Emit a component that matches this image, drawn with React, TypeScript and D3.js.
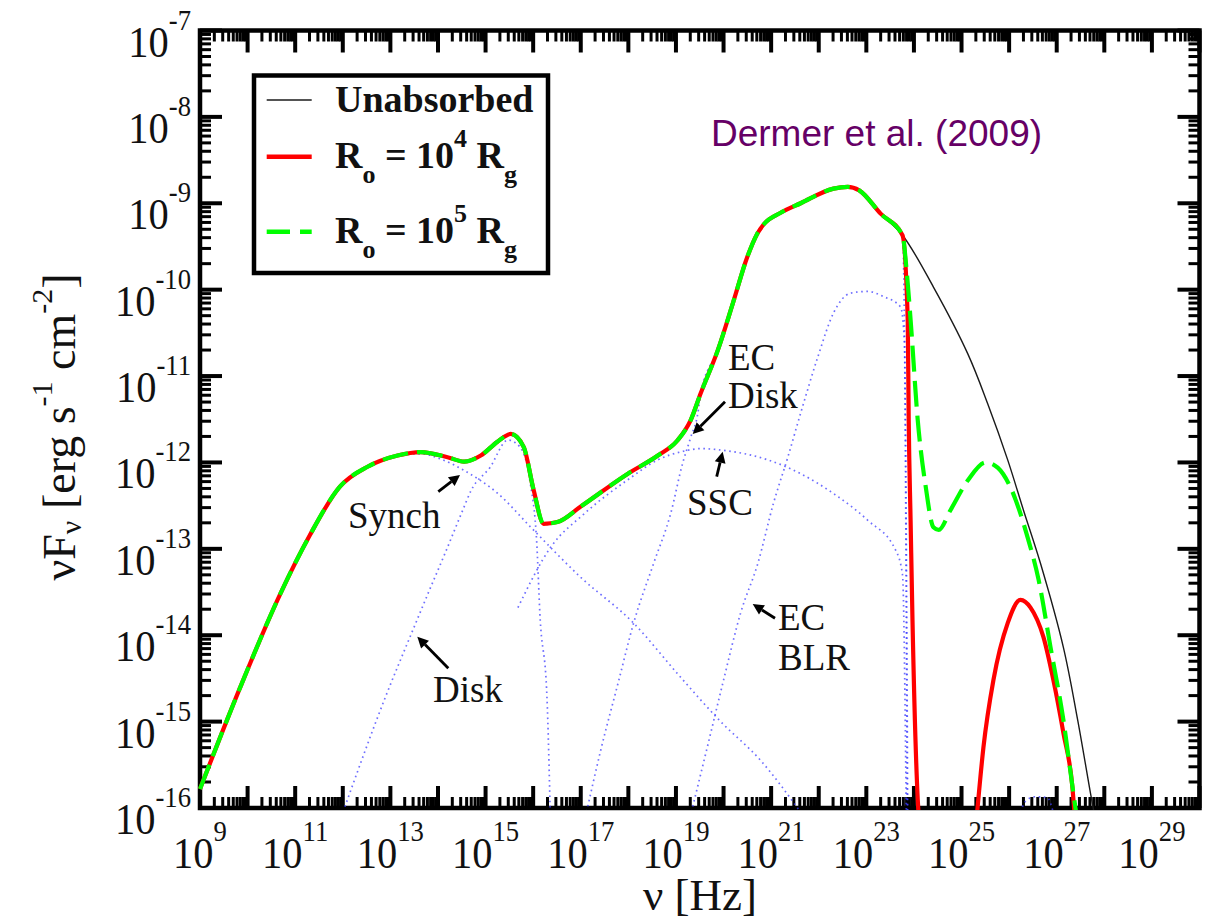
import React from "react";
import * as d3 from "d3";

type Pt = [number, number]; // [log10(nu / Hz), log10(nuFnu / erg s^-1 cm^-2)]

// ---------- axis definitions ----------
const xLabelExponents = [9, 11, 13, 15, 17, 19, 21, 23, 25, 27, 29];
const yLabelExponents = [-16, -15, -14, -13, -12, -11, -10, -9, -8, -7];
const xDecades = d3.range(9, 31);
const yDecades = d3.range(-16, -6);
const minorMultipliers = [2, 3, 4, 5, 6, 7, 8, 9];

// ---------- total SED (identical for all three cases below ~6e23 Hz) ----------
const commonSED: Pt[] = [
  [9.0, -15.78], [9.84, -14.61], [10.68, -13.53], [11.31, -12.84], [11.94, -12.28],
  [12.52, -12.05], [13.15, -11.92], [13.64, -11.88], [14.2, -11.94],
  [14.55, -11.99], [14.9, -11.92], [15.25, -11.76], [15.53, -11.67], [15.8, -11.82],
  [16.01, -12.32], [16.22, -12.71], [16.51, -12.69], [17.0, -12.51], [17.99, -12.13],
  [18.62, -11.92], [19.04, -11.74], [19.31, -11.51], [19.52, -11.2], [19.88, -10.7],
  [20.2, -10.15], [20.5, -9.62], [20.7, -9.36], [20.85, -9.24], [21.2, -9.11],
  [21.62, -9.0], [22.31, -8.83], [22.61, -8.81], [22.85, -8.85], [23.3, -9.12],
  [23.76, -9.37],
];

// ---------- high-energy tails ----------
const unabsorbedTail: Pt[] = [
  [23.76, -9.37], [24.41, -9.97], [25.13, -10.74], [25.55, -11.32], [25.97, -11.97],
  [26.3, -12.55], [26.66, -13.17], [27.14, -14.14], [27.44, -14.98], [27.71, -15.83],
  [27.8, -16.1],
];
const ro1e4Drop: Pt[] = [
  [23.76, -9.37], [23.87, -10.35], [23.89, -11.5], [23.93, -12.67], [23.97, -13.83],
  [24.08, -15.9], [24.1, -16.1],
];
const ro1e4Bump: Pt[] = [
  [25.32, -16.1], [25.46, -15.3], [25.67, -14.52], [25.97, -13.86], [26.24, -13.59],
  [26.45, -13.68], [26.72, -14.02], [26.93, -14.52], [27.14, -15.13], [27.33, -15.76],
  [27.38, -16.1],
];
const ro1e5Tail: Pt[] = [
  [23.76, -9.37], [23.85, -9.8], [23.93, -10.35], [24.08, -11.51], [24.25, -12.29],
  [24.41, -12.75], [24.52, -12.78], [24.77, -12.55], [25.13, -12.21], [25.51, -12.0],
  [25.76, -12.06], [26.03, -12.29], [26.39, -12.87], [26.62, -13.36], [26.87, -14.14],
  [27.14, -14.98], [27.35, -15.83], [27.42, -16.1],
];

// ---------- model components (blue dotted) ----------
const synchComp: Pt[] = [
  [9.0, -15.78], [9.84, -14.61], [10.68, -13.53], [11.31, -12.84], [11.94, -12.28],
  [12.52, -12.05], [13.15, -11.92], [13.64, -11.9], [14.1, -11.97],
  [14.54, -12.09], [15.26, -12.36], [15.95, -12.75], [17.0, -13.33], [18.11, -13.86],
  [19.04, -14.45], [19.94, -15.0], [20.78, -15.45], [21.62, -16.05],
];
const diskComp: Pt[] = [
  [11.97, -16.1], [12.9, -14.71], [13.45, -13.97], [13.85, -13.44],
  [14.15, -13.05], [14.5, -12.58], [14.7, -12.32], [15.09, -12.06], [15.47, -11.74],
  [15.72, -11.82], [15.93, -12.21], [16.08, -12.98], [16.14, -13.74], [16.29, -14.72],
  [16.36, -16.1],
];
const sscComp: Pt[] = [
  [15.68, -13.68], [16.37, -12.98], [17.06, -12.6], [17.99, -12.2], [18.62, -11.97],
  [19.16, -11.87], [19.52, -11.84], [20.0, -11.86], [20.93, -11.97], [21.62, -12.13],
  [22.31, -12.36], [23.03, -12.67], [23.62, -13.02], [23.76, -13.3], [23.84, -16.1],
];
const ecDiskRise: Pt[] = [
  [17.1, -16.1], [17.42, -15.33], [17.8, -14.52], [18.11, -13.86], [18.53, -13.17],
  [18.89, -12.59], [19.14, -12.01], [19.31, -11.71], [19.46, -11.43],
];
const ecDiskCutoff: Pt[] = [[23.8, -10.4], [23.86, -16.1]];
const ecBlrComp: Pt[] = [
  [19.3, -16.1], [19.67, -15.27], [20.0, -14.52], [20.36, -13.74], [20.72, -13.17],
  [21.05, -12.47], [21.35, -11.94], [21.62, -11.43], [21.98, -10.78], [22.31, -10.27],
  [22.67, -10.04], [23.03, -10.02], [23.36, -10.08], [23.72, -10.2], [23.8, -10.6],
  [23.87, -16.1],
];
const cascadeComp: Pt[] = [
  [26.2, -16.1], [26.35, -15.92], [26.55, -15.87], [26.8, -15.88], [26.95, -16.1],
];

// ---------- annotations (anchored in data coordinates) ----------
const annotationTexts: { text: string; at: Pt }[] = [
  { text: "Synch", at: [12.11, -12.759] },
  { text: "Disk", at: [13.895, -14.773] },
  { text: "EC", at: [20.093, -10.93] },
  { text: "Disk", at: [20.093, -11.37] },
  { text: "SSC", at: [19.232, -12.608] },
  { text: "EC", at: [21.144, -13.94] },
  { text: "BLR", at: [21.144, -14.403] },
];
const annotationArrows: { from: Pt; to: Pt }[] = [
  { from: [14.007, -12.339], to: [14.463, -12.145] },
  { from: [14.217, -14.383], to: [13.566, -14.017] },
  { from: [20.031, -11.297], to: [19.352, -11.671] },
  { from: [19.856, -12.165], to: [19.982, -11.876] },
  { from: [21.081, -13.804], to: [20.612, -13.639] },
];

const SERIF = '"Liberation Serif", "Times New Roman", Times, "DejaVu Serif", serif';
const SANS = '"Liberation Sans", Arial, sans-serif';

const W = 1207;
const H = 923;
const L = 200;
const R = 1199.5;
const T = 30.5;
const B = 808;

function Arrow({ x1, y1, x2, y2 }: { x1: number; y1: number; x2: number; y2: number }) {
  const a = Math.atan2(y2 - y1, x2 - x1);
  const hl = 11;
  const hw = 5.5;
  const bx = x2 - hl * Math.cos(a);
  const by = y2 - hl * Math.sin(a);
  const px = -Math.sin(a) * hw;
  const py = Math.cos(a) * hw;
  return (
    <g>
      <line x1={x1} y1={y1} x2={bx} y2={by} stroke="#000" strokeWidth={2.8} />
      <polygon points={`${x2},${y2} ${bx + px},${by + py} ${bx - px},${by - py}`} fill="#000" />
    </g>
  );
}

export default function App() {
  const x = d3.scaleLog().domain([1e9, 1e30]).range([L, R]);
  const y = d3.scaleLog().domain([1e-16, 1e-7]).range([B, T]);
  const px = (d: Pt) => x(Math.pow(10, d[0]));
  const py = (d: Pt) => y(Math.pow(10, d[1]));
  const line = d3.line<Pt>().x(px).y(py).curve(d3.curveMonotoneX);
  const smoothLine = d3.line<Pt>().x(px).y(py).curve(d3.curveCatmullRom.alpha(0.5));

  const ecDiskComp = ecDiskRise.concat(commonSED.filter((d) => d[0] >= 19.5), ecDiskCutoff);
  const components = [synchComp, diskComp, sscComp, ecDiskComp, ecBlrComp, cascadeComp];

  const unabsorbed = commonSED.concat(unabsorbedTail.slice(1));
  const red = commonSED.concat(ro1e4Drop.slice(1));
  const green = commonSED.concat(ro1e5Tail.slice(1));

  const majorXv = xDecades.map((e) => Math.pow(10, e));
  const minorXv = xDecades.slice(0, -1).flatMap((e) => minorMultipliers.map((m) => m * Math.pow(10, e)));
  const majorYv = yDecades.map((e) => Math.pow(10, e));
  const minorYv = yDecades.slice(0, -1).flatMap((e) => minorMultipliers.map((m) => m * Math.pow(10, e)));

  const MAJ = 22;
  const MIN = 11;

  return (
    <svg
      width={W}
      height={H}
      viewBox={`0 0 ${W} ${H}`}
      style={{ position: "absolute", left: 0, top: 0, background: "#fff" }}
    >
      <rect x={0} y={0} width={W} height={H} fill="#fff" />
      <defs>
        <clipPath id="plotClip">
          <rect x={L - 2} y={T - 2} width={R - L + 4} height={B - T + 4} />
        </clipPath>
      </defs>

      {/* ticks */}
      <g stroke="#000">
        {minorXv.map((v, i) => (
          <g key={"mx" + i} strokeWidth={3}>
            <line x1={x(v)} x2={x(v)} y1={B} y2={B - MIN} />
            <line x1={x(v)} x2={x(v)} y1={T} y2={T + MIN} />
          </g>
        ))}
        {majorXv.map((v, i) => (
          <g key={"Mx" + i} strokeWidth={4}>
            <line x1={x(v)} x2={x(v)} y1={B} y2={B - MAJ} />
            <line x1={x(v)} x2={x(v)} y1={T} y2={T + MAJ} />
          </g>
        ))}
        {minorYv.map((v, i) => (
          <g key={"my" + i} strokeWidth={3}>
            <line x1={L} x2={L + MIN} y1={y(v)} y2={y(v)} />
            <line x1={R} x2={R - MIN} y1={y(v)} y2={y(v)} />
          </g>
        ))}
        {majorYv.map((v, i) => (
          <g key={"My" + i} strokeWidth={4}>
            <line x1={L} x2={L + MAJ} y1={y(v)} y2={y(v)} />
            <line x1={R} x2={R - MAJ} y1={y(v)} y2={y(v)} />
          </g>
        ))}
      </g>
      <rect x={L} y={T} width={R - L} height={B - T} fill="none" stroke="#000" strokeWidth={4.5} />

      {/* tick labels */}
      <g fontFamily={SERIF} fill="#111">
        {xLabelExponents.map((e) => (
          <g key={"xl" + e} transform={`translate(${x(Math.pow(10, e))},868) scale(0.92,1)`}>
            <text textAnchor="middle" fontSize={44}>
              <tspan>10</tspan>
              <tspan dy={-27} fontSize={29}>{e}</tspan>
            </text>
          </g>
        ))}
        {yLabelExponents.map((e) => (
          <g key={"yl" + e} transform={`translate(191,${y(Math.pow(10, e)) + 26}) scale(0.92,1)`}>
            <text textAnchor="end" fontSize={44}>
              <tspan>10</tspan>
              <tspan dy={-27} fontSize={29}>{"-" + Math.abs(e)}</tspan>
            </text>
          </g>
        ))}
      </g>

      {/* axis titles */}
      <text x={700} y={910} textAnchor="middle" fontFamily={SERIF} fontSize={45} fill="#111">
        ν [Hz]
      </text>
      <text transform="translate(75,427) rotate(-90)" textAnchor="middle" fontFamily={SERIF} fontSize={46} fill="#111">
        <tspan>νF</tspan>
        <tspan dy={6} fontSize={30}>ν</tspan>
        <tspan dy={-6}> [erg s</tspan>
        <tspan dy={-23} fontSize={30}>-1</tspan>
        <tspan dy={23}> cm</tspan>
        <tspan dy={-23} fontSize={30}>-2</tspan>
        <tspan dy={23}>]</tspan>
      </text>

      {/* curves */}
      <g clipPath="url(#plotClip)" fill="none">
        {components.map((c, i) => (
          <path
            key={"c" + i}
            d={line(c) || ""}
            stroke="#3d3dff"
            strokeWidth={1.7}
            strokeDasharray="1.6 3.6"
            opacity={0.75}
          />
        ))}
        <path d={smoothLine(unabsorbed) || ""} stroke="#1a1a1a" strokeWidth={1.4} />
        <path d={line(red) || ""} stroke="#ff0000" strokeWidth={4.2} />
        <path d={line(ro1e4Bump) || ""} stroke="#ff0000" strokeWidth={4.2} />
        <path d={line(green) || ""} stroke="#00ff00" strokeWidth={4.2} strokeDasharray="26 9" />
      </g>

      {/* annotations */}
      <g fontFamily={SERIF} fontSize={37} fill="#111">
        {annotationTexts.map((a, i) => (
          <text key={"at" + i} x={px(a.at)} y={py(a.at)}>
            {a.text}
          </text>
        ))}
      </g>
      {annotationArrows.map((a, i) => (
        <Arrow key={"ar" + i} x1={px(a.from)} y1={py(a.from)} x2={px(a.to)} y2={py(a.to)} />
      ))}

      <text x={711} y={146} fontFamily={SANS} fontSize={37} fill="#660066">
        Dermer et al. (2009)
      </text>

      {/* legend */}
      <rect x={254} y={75.5} width={294} height={197.5} fill="#fff" stroke="#000" strokeWidth={4.5} />
      <line x1={266.7} x2={311.7} y1={100} y2={100} stroke="#1a1a1a" strokeWidth={1.4} />
      <line x1={266.7} x2={311.7} y1={156.7} y2={156.7} stroke="#ff0000" strokeWidth={4.5} />
      <line x1={266.7} x2={311.7} y1={231.7} y2={231.7} stroke="#00ff00" strokeWidth={4.5} strokeDasharray="23.3 10" />
      <g fontFamily={SERIF} fontWeight="bold" fill="#111" fontSize={38}>
        <text x={335} y={111.7}>Unabsorbed</text>
        <text x={335} y={168.3}>
          <tspan>R</tspan>
          <tspan dy={15} fontSize={26}>o</tspan>
          <tspan dy={-15}> = 10</tspan>
          <tspan dy={-21} fontSize={26}>4</tspan>
          <tspan dy={21}> R</tspan>
          <tspan dy={15} fontSize={26}>g</tspan>
        </text>
        <text x={335} y={242.7}>
          <tspan>R</tspan>
          <tspan dy={15} fontSize={26}>o</tspan>
          <tspan dy={-15}> = 10</tspan>
          <tspan dy={-21} fontSize={26}>5</tspan>
          <tspan dy={21}> R</tspan>
          <tspan dy={15} fontSize={26}>g</tspan>
        </text>
      </g>
    </svg>
  );
}
